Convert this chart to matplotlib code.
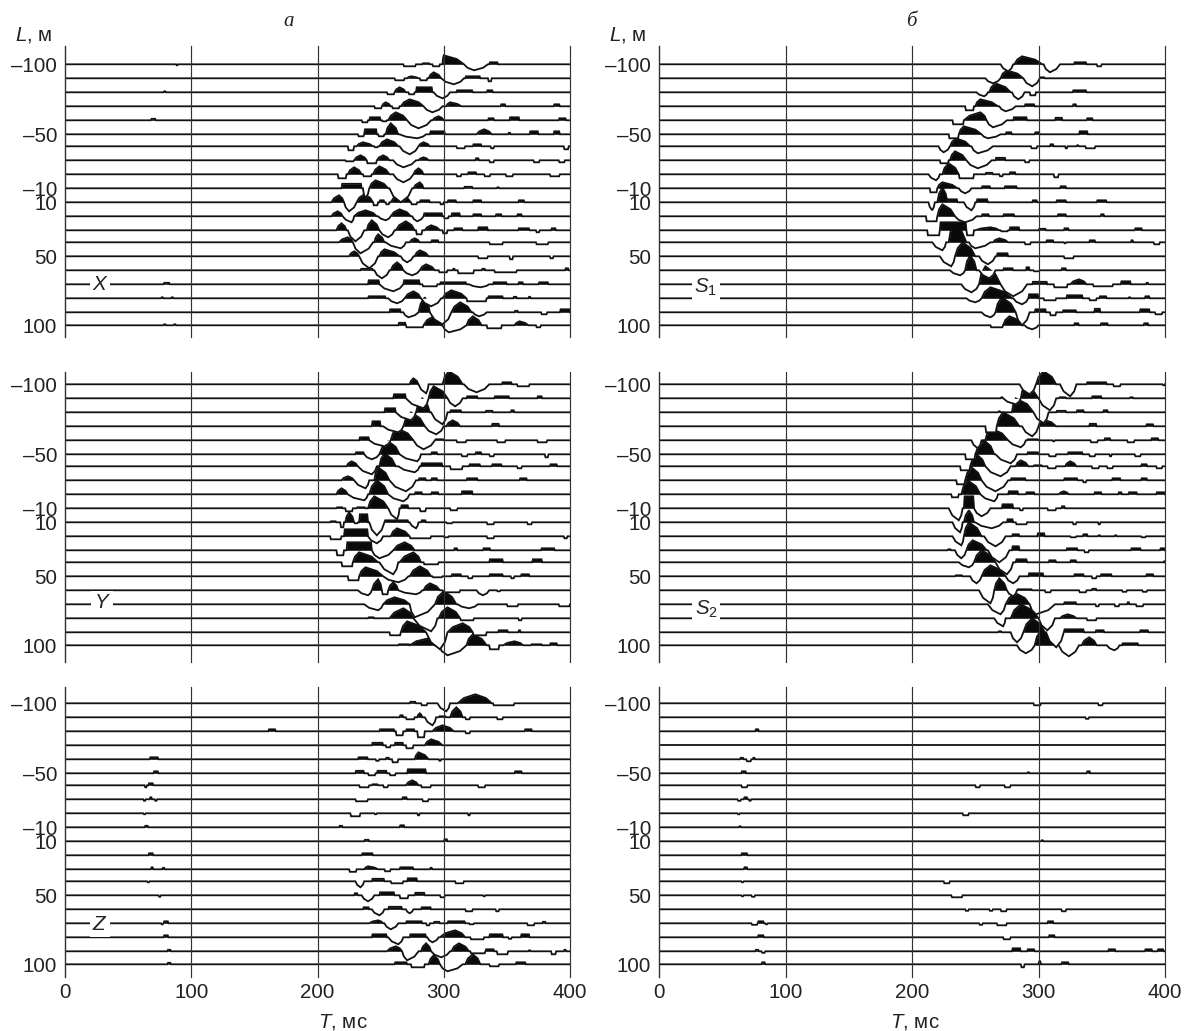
import matplotlib
matplotlib.use('Agg')
import matplotlib.pyplot as plt
import numpy as np

plt.rcParams['font.family'] = ['Liberation Sans']
plt.rcParams['mathtext.fontset'] = 'custom'
plt.rcParams['mathtext.rm'] = 'Liberation Sans'
plt.rcParams['mathtext.it'] = 'Liberation Sans:italic'

# Depth labels and time ticks
depth_labels = ['–100', '–50', '–10', '10', '50', '100']
depth_trace_index = [0, 5, 9, 10, 14, 19]
time_ticks = [0, 100, 200, 300, 400]

# Each trace is a list of read-off events, amplitude in picture pixels, up = positive
# (start, end, amp) = small flat step, (start, top, end, amp) = lobe
x_traces = [
    [(88, 89.5, -1), (268, 278, -2), (283, 289, 1), (291, 297, -2), (299, 300, 316, 9), (316, 324, 335, -6), (336, 343, 2)],
    [(261, 269, -2), (271, 274, 280, 2), (281, 287, -2), (288, 292, 298, 6), (298, 308, 316, -6), (317, 329, 2), (335, 338, -3)],
    [(78, 80, 1), (255, 261, -2), (261, 265, 270, 5), (272, 277, -2), (278, 291, 5), (292, 299, 305, -6), (310, 323, 2), (334, 339, 2)],
    [(245, 251, -2), (251, 254, 258, 4), (259, 265, -2), (266, 273, 284, 7), (284, 291, 299, -6), (302, 305, 314, 4), (345, 349, 2), (387, 392, 2)],
    [(68, 72, 1.5), (235, 240, -2), (241, 250, 3), (251, 255, -1), (256, 262, 271, 8), (271, 280, 290, -8), (291, 296, 300, 4), (335, 340, 2), (352, 360, 3), (391, 397, 2)],
    [(232, 237, -2), (237, 247, 5), (248, 253, -2), (254, 258, 264, 11), (265, 279, 286, -4), (289, 301, 3), (326, 332, 338, 5), (351, 353, 1.5), (368, 375, 3), (387, 392, 3)],
    [(224, 229, -4), (231, 236, 244, 4), (245, 248, -1), (249, 255, 264, 7), (265, 273, 280, -8), (280, 284, 289, 4), (310, 317, -2), (323, 330, 2), (337, 340, -2), (395, 399, -3)],
    [(222, 229, -1), (229, 234, 239, 5), (239, 247, -3), (247, 252, 257, 5), (260, 268, 278, -7), (280, 284, 288, 3), (325, 328, 2), (336, 340, -2), (371, 376, -2), (391, 396, -2)],
    [(216, 223, -4), (224, 229, 235, 7), (236, 243, -2), (244, 249, 257, 8), (260, 268, 276, -8), (276, 280, 284, 6), (310, 314, -2), (319, 326, 2), (332, 337, -2), (349, 355, -2), (384, 392, -2)],
    [(219, 235, 4.5), (236, 238, 241, -10), (241, 246, 256, 8), (257, 266, 275, -14), (276, 281, 284, 6), (316, 323, 1.5), (342, 344, 1)],
    [(211, 217, 221, 7), (221, 225, 231, -9), (231, 237, 244, 8), (244, 248, -3), (249, 253, 2), (254, 257, -2), (258, 265, 274, 8), (274, 279, -2), (281, 289, 2), (297, 300, -2), (303, 310, 2), (323, 330, 2), (359, 364, 2)],
    [(211, 216, 220, 5), (220, 227, 229, -6), (229, 238, 247, 6), (248, 254, 258, -4), (258, 265, 274, 7), (275, 279, 284, -5), (284, 299, 3), (300, 304, -2), (306, 313, 3), (323, 330, 2), (341, 346, 2), (358, 362, 2)],
    [(215, 219, 223, 7), (224, 230, 237, -11), (239, 243, 249, 10), (249, 256, 261, -7), (262, 270, 277, 9), (278, 283, -4), (285, 290, 297, 5), (299, 303, -3), (308, 315, 2), (327, 335, 3), (359, 368, 2), (373, 376, -2), (385, 389, 2)],
    [(217, 224, 228, 5), (228, 234, 244, -11), (245, 248, 253, 8), (254, 266, 270, -6), (273, 277, 281, 4), (290, 296, 2), (336, 347, -2), (373, 383, -2)],
    [(225, 229, 233, 5), (233, 241, 248, -12), (249, 253, 265, 7), (266, 271, 276, -6), (277, 281, 288, 6), (327, 335, -2), (352, 355, -3), (384, 387, -2)],
    [(234, 244, 1.5), (245, 251, 257, -8), (258, 263, 268, 8), (268, 275, 281, -5), (281, 286, 293, 6), (296, 303, -2), (307, 309, 1.5), (311, 324, -3), (330, 333, 1.5), (340, 358, -2), (396, 399, 2)],
    [(78, 83, 1.5), (240, 249, 4), (249, 260, 268, -7), (268, 281, 4), (283, 295, -2), (297, 318, 2), (320, 329, 336, -3), (339, 350, 2), (359, 363, 2), (375, 383, 2)],
    [(76, 78, 1), (84, 86, 1), (240, 254, 2), (256, 263, 269, -5), (269, 276, 282, 7), (282, 290, 298, -8), (299, 306, 318, 8), (318, 334, -3), (335, 347, 2), (355, 358, 1.5), (367, 369, 1.5)],
    [(257, 266, 3), (268, 272, 280, -5), (280, 285, 289, 15), (289, 299, 306, -12), (306, 313, 322, 10), (323, 328, 334, -4), (356, 359, 1.5), (377, 382, -2), (392, 400, 3)],
    [(78, 80, 1), (86, 88, 1), (264, 270, 2.5), (270, 284, -2), (284, 292, 298, 9), (299, 304, 318, -7), (318, 323, 330, 9), (334, 346, -3), (356, 360, 367, 4), (373, 377, -2)],
]

y_traces = [
    [(273, 276, 280, 6), (280, 286, 288, -9), (299, 304, 315, 13), (316, 326, 336, -8), (346, 354, 2), (358, 368, -2)],
    [(260, 270, 4), (270, 284, 288, -10), (288, 292, 303, 12), (303, 309, 315, -8), (318, 327, 2), (340, 352, 2), (374, 378, 2)],
    [(253, 262, 4), (262, 274, 278, -8), (278, 283, 289, 14), (290, 299, 303, -12), (305, 314, 2), (333, 339, 1.5), (353, 356, 2)],
    [(243, 250, 5), (252, 264, 268, -6), (268, 274, 285, 14), (285, 294, 300, -8), (302, 307, 313, 6), (338, 344, 2.5)],
    [(233, 241, 3), (241, 253, 258, -6), (258, 263, 276, 12), (276, 284, 293, -9), (293, 300, 1), (310, 318, -2), (342, 349, -2), (374, 382, -2)],
    [(230, 237, 2), (237, 243, 249, -5), (249, 256, 265, 13), (265, 279, 282, -7), (290, 295, 2), (314, 319, -2), (325, 330, 2), (336, 340, -2), (380, 383, -3)],
    [(223, 227, 232, 5), (232, 243, 247, -8), (249, 253, 262, 13), (264, 277, 281, -6), (282, 299, 3), (305, 315, -3), (320, 329, 2), (338, 346, 2), (358, 362, -2), (384, 390, 2)],
    [(219, 224, 229, 4), (229, 238, 241, -8), (245, 248, 257, 13), (257, 270, 278, -11), (280, 286, 2), (290, 295, 2), (318, 327, 2), (360, 366, 2)],
    [(215, 219, 224, 6), (224, 237, 240, -6), (241, 247, 256, 14), (256, 268, 273, -7), (277, 283, 2), (290, 296, 2), (314, 323, 3)],
    [(215, 220, 1), (222, 228, -3), (231, 238, 1), (240, 245, 256, 12), (256, 263, 265, -11), (266, 272, 3), (281, 286, -3), (305, 311, -2)],
    [(210, 215, 1), (218, 221, -5), (222, 225, 229, 10), (229, 232, -1), (233, 240, 8), (241, 247, 253, -13), (253, 272, 2), (273, 278, 280, -6), (282, 286, 2), (302, 307, -1), (334, 340, -2), (366, 370, -2)],
    [(210, 219, -3), (221, 240, 7), (240, 247, 252, -7), (258, 263, 273, 8), (273, 290, -2), (300, 304, -1), (334, 340, -2), (395, 398, -2)],
    [(215, 221, -5), (223, 243, 8), (243, 249, 260, -8), (260, 269, 277, 8), (308, 311, 2), (331, 337, 2), (377, 388, 2)],
    [(219, 228, -4), (228, 233, 248, 10), (249, 260, 264, -12), (265, 276, 282, 10), (284, 296, -2), (336, 347, 3), (370, 378, 3)],
    [(224, 233, -4), (233, 238, 252, 9), (252, 264, 272, -6), (273, 281, 290, 10), (291, 299, -1), (306, 314, 2), (319, 323, -2), (336, 347, 2), (353, 356, -2), (361, 368, 2)],
    [(232, 240, 243, -5), (243, 248, 251, 11), (251, 256, -4), (256, 260, 264, 8), (264, 278, 283, -4), (284, 289, 297, 7), (299, 313, -2), (326, 331, 336, -5), (342, 345, -1)],
    [(237, 248, 252, -6), (252, 261, 273, 7), (273, 277, 293, -13), (293, 300, 310, 13), (311, 320, 327, -4), (350, 359, -2), (391, 400, -2)],
    [(240, 245, 1), (257, 268, 276, 10), (276, 290, 295, -13), (296, 303, 313, 11), (313, 324, -2), (359, 362, -2)],
    [(257, 266, -3), (266, 271, 286, 11), (286, 297, 303, -17), (303, 315, 323, 9), (323, 334, -3), (343, 351, 2), (359, 361, 2)],
    [(264, 273, 1), (273, 288, 293, 7), (296, 303, 318, -10), (318, 323, 334, 11), (336, 344, -4), (347, 356, 363, 4), (369, 378, 1), (384, 390, 2)],
]

z_traces = [
    [(273, 278, 1.5), (282, 287, -2), (295, 302, 305, -8), (311, 325, 338, 9), (339, 356, -2)],
    [(265, 268, 2), (270, 277, -2), (279, 281, 283, 4), (285, 291, 294, -8), (296, 302, 1), (305, 310, 315, 10), (317, 321, -2), (342, 347, -2)],
    [(161, 167, 2), (249, 261, 2), (262, 268, -4), (270, 277, 2), (279, 285, -6), (291, 299, 308, 6), (317, 321, -2), (364, 370, 2)],
    [(243, 252, 2.5), (254, 258, -2), (261, 268, 2.5), (270, 276, -3), (285, 290, 299, 6)],
    [(67, 74, 2), (232, 240, 2), (246, 249, -1.5), (254, 257, 1.5), (259, 264, -3), (277, 280, 288, 7), (296, 298, -1.5)],
    [(70, 74, 2), (230, 237, 2.5), (240, 246, -2), (247, 255, 2.5), (257, 262, -2), (271, 286, 4), (356, 362, 2)],
    [(63, 65, -2), (66, 70, 2), (233, 241, -2), (243, 248, 1), (252, 256, -2), (270, 275, 280, 5), (282, 290, -2), (327, 333, -2)],
    [(62, 64, -1.5), (67, 69, 2), (71, 73, -1.5), (230, 240, -2), (267, 271, 2), (283, 288, -2)],
    [(62, 64, -1), (226, 234, -3), (245, 247, -1), (279, 281, -2), (319, 321, -2)],
    [(63, 66, 1.5), (217, 220, 1.5), (265, 269, 2)],
    [(237, 241, 1.5), (300, 303, 2)],
    [(66, 70, 2), (235, 244, 2)],
    [(68, 70, 2), (77, 79, 1.5), (225, 231, -2.5), (237, 240, 248, 3), (253, 258, -2), (265, 276, 2), (289, 291, 1.5)],
    [(65, 67, -1), (230, 234, 237, -6), (243, 253, 2.5), (258, 268, -2), (271, 279, 3), (309, 316, -2)],
    [(74, 76, -1.5), (229, 232, 2), (235, 240, 245, -6), (249, 261, 3), (265, 272, -3), (277, 285, 2.5), (297, 301, -2), (331, 333, -1)],
    [(236, 241, 2), (243, 249, 253, -6), (256, 267, 2.5), (270, 273, 276, -4), (282, 290, 2), (317, 323, -2), (341, 344, -2)],
    [(76, 78, -1), (78, 82, 2), (241, 248, 252, 3), (253, 258, 264, -6), (270, 283, 2), (286, 289, -2), (292, 297, 1.5), (303, 317, 2), (320, 324, -1), (366, 372, -2), (378, 381, 1.5)],
    [(78, 82, 2), (243, 255, 3), (256, 264, 268, -7), (273, 286, 3), (287, 291, 296, -5), (297, 309, 317, 7), (321, 332, -2), (336, 347, 3), (351, 354, -1.5), (361, 368, 3)],
    [(81, 84, 1.5), (255, 262, 267, 5), (267, 271, 280, -9), (282, 286, 290, 8), (290, 298, 305, -6), (306, 312, 320, 8), (321, 333, -2), (333, 340, 2), (342, 351, -3), (367, 369, 1), (385, 389, -3), (395, 397, 1.5)],
    [(81, 84, 1.5), (261, 271, 2), (274, 285, -3), (288, 292, 297, 9), (297, 303, 315, -7), (317, 323, 329, 10), (336, 344, -2), (357, 365, 2)],
]

s1_traces = [
    [(270, 276, 280, -7), (281, 287, 303, 8), (304, 309, 317, -8), (328, 338, 2), (346, 350, -2)],
    [(258, 264, 270, -5), (270, 275, 288, 8), (288, 295, 301, -8), (301, 305, 1)],
    [(251, 257, 260, -4), (261, 266, 278, 9), (279, 284, 289, -7), (293, 298, -3), (327, 338, 2)],
    [(242, 249, -4), (250, 254, 268, 7), (269, 274, 282, -5), (289, 297, 2), (327, 330, 2)],
    [(232, 241, -4), (241, 254, 259, 8), (259, 264, 275, -7), (280, 291, 3), (313, 319, 2.5), (338, 343, 2)],
    [(229, 237, -4), (237, 241, 255, 8), (255, 260, 270, -4), (274, 279, 2), (297, 301, 2), (332, 339, 3)],
    [(221, 225, 230, -6), (230, 235, 246, 8), (247, 252, 264, -7), (294, 299, -2), (309, 312, 2), (321, 323, -2), (330, 332, 1), (337, 345, -2)],
    [(222, 229, -3), (230, 234, 243, 9), (243, 252, 263, -8), (266, 274, 2.5), (289, 293, -2)],
    [(213, 219, 222, -6), (224, 229, 237, 11), (237, 249, -4), (258, 264, 1.5), (269, 272, -2), (277, 282, 2), (312, 316, -3)],
    [(214, 220, -4), (220, 224, 236, 6), (237, 242, 247, -5), (255, 262, 2), (273, 283, 2), (317, 322, 2)],
    [(213, 216, 218, -8), (220, 224, 228, 15), (228, 236, 3), (241, 247, 250, -8), (251, 260, 3), (295, 299, 2), (314, 322, 2), (346, 354, 2)],
    [(211, 220, -5), (220, 224, 234, 12), (234, 242, 251, -6), (255, 261, 2), (272, 281, 2), (315, 322, 2), (349, 352, 2)],
    [(212, 222, -5), (222, 243, 8), (243, 249, -5), (250, 262, 269, 3), (270, 276, -1), (277, 285, 3), (300, 306, 1.5), (320, 324, 2), (376, 382, 2)],
    [(216, 224, 227, -8), (229, 233, 243, 18), (245, 250, 262, -6), (264, 269, 276, 4), (289, 294, -2), (306, 312, 2), (320, 322, -1), (340, 345, 2), (373, 375, 2), (391, 396, -2)],
    [(222, 231, 234, -10), (234, 240, 250, 14), (253, 260, 266, -8), (267, 276, 3), (320, 328, -2)],
    [(230, 238, 242, -5), (242, 246, 251, 15), (253, 261, 266, -8), (272, 280, 2), (290, 293, 3), (296, 301, -1), (318, 322, 2)],
    [(239, 247, 253, -8), (253, 258, 270, 18), (270, 280, 291, -12), (295, 307, 2.5), (312, 323, -3), (325, 332, 338, 5), (343, 359, -2), (365, 373, 3), (385, 387, 1.5)],
    [(243, 250, 255, -4), (255, 262, 279, 11), (280, 287, 292, -6), (292, 300, 4), (304, 314, -2), (322, 335, 3), (340, 346, -2), (348, 354, 2), (371, 373, 1), (384, 388, 2)],
    [(255, 262, 266, -5), (266, 271, 282, 15), (282, 287, 293, -13), (297, 306, 3), (309, 314, -3), (319, 330, 2), (344, 349, 3.5), (380, 388, 3), (392, 398, -2)],
    [(262, 272, -2), (272, 277, 288, 9), (289, 295, 300, -4), (328, 332, 2), (349, 355, 2), (383, 387, 2)],
]

s2_traces = [
    [(285, 293, 298, -10), (298, 304, 314, 13), (317, 325, 330, -12), (338, 354, 2), (359, 365, -2), (398, 400, -1)],
    [(270, 272, 1), (272, 282, 286, -6), (286, 289, 300, 12), (300, 309, 314, -12), (316, 322, 1), (342, 350, 2), (372, 375, 1)],
    [(268, 270, 1), (279, 282, 296, 14), (296, 304, 308, -11), (314, 322, 1.5), (330, 336, 2), (351, 355, 2)],
    [(258, 267, -6), (267, 272, 285, 14), (287, 295, 300, -10), (300, 303, 314, 7), (340, 346, 2.5), (385, 391, 2)],
    [(247, 252, 255, -8), (258, 262, 276, 12), (276, 286, 290, -7), (291, 300, 1), (311, 313, -1), (341, 347, -2), (352, 357, 2), (370, 376, -2), (389, 395, 2)],
    [(242, 250, -5), (250, 257, 265, 14), (266, 278, 283, -9), (291, 300, 2), (308, 314, -2), (323, 335, 2), (340, 345, -2), (356, 358, -2), (376, 381, -2)],
    [(238, 246, -4), (246, 251, 258, 12), (258, 270, 278, -10), (282, 286, 292, 6), (296, 303, 1), (307, 314, -2), (321, 325, 330, 5), (342, 348, -2), (354, 359, -2), (381, 386, 2), (393, 398, -2)],
    [(235, 242, -4), (242, 247, 255, 13), (255, 266, 276, -11), (278, 290, 2), (320, 331, 2), (335, 338, -2), (358, 365, 2), (381, 386, 2)],
    [(231, 237, -3), (239, 244, 254, 14), (254, 265, 268, -7), (276, 284, 3), (290, 297, 2), (316, 320, 324, 3), (344, 350, 2), (363, 366, 2), (371, 378, 2), (393, 400, 2)],
    [(229, 237, 240, -12), (241, 249, 12), (249, 255, 262, -8), (271, 280, 4), (285, 288, -2), (307, 314, -2), (318, 321, 2)],
    [(232, 238, 240, -10), (241, 245, 249, 12), (250, 263, 272, -6), (275, 280, 3), (282, 291, -2), (327, 330, -2), (347, 349, -2)],
    [(232, 239, 241, -9), (241, 245, 255, 14), (257, 266, 274, -10), (279, 285, 2), (299, 305, 3), (325, 330, -1), (335, 339, 2), (347, 349, 1), (360, 362, 1), (381, 385, -1)],
    [(228, 231, 1), (234, 239, 243, -8), (243, 248, 259, 10), (260, 269, 277, -12), (279, 285, 4), (322, 331, 2), (336, 340, -2), (373, 381, 2), (396, 400, 2)],
    [(237, 245, 249, -5), (249, 255, 266, 12), (266, 275, 280, -12), (282, 291, 3), (308, 314, 2), (325, 330, 2), (399, 400, 1)],
    [(234, 240, 1), (246, 251, 255, -7), (255, 262, 274, 11), (274, 280, 285, -7), (292, 304, 3), (328, 336, 2), (342, 346, -2), (349, 358, 2), (385, 391, 2)],
    [(253, 262, 265, -13), (265, 269, 275, 12), (275, 280, 283, -6), (283, 295, 1), (305, 310, -2), (332, 338, -2), (342, 346, 1.5), (366, 370, -1.5), (382, 386, -1.5)],
    [(260, 270, 274, -10), (274, 282, 293, 11), (293, 298, 313, -10), (320, 330, 2), (345, 348, -2), (360, 364, -2), (370, 372, 2), (377, 383, -2)],
    [(265, 272, 274, -8), (278, 286, 300, 14), (300, 307, 313, -12), (317, 323, 330, 4), (338, 346, -2)],
    [(268, 271, 1), (278, 283, 288, -10), (288, 295, 305, 14), (306, 314, 320, -15), (320, 336, 3), (345, 352, 2), (380, 387, 2)],
    [(283, 290, 297, -8), (297, 302, 314, 15), (316, 324, 332, -11), (334, 340, 346, 8), (354, 360, 364, -5), (366, 379, 2)],
]

s3_traces = [
    [(296, 302, -2), (347, 351, -2)],
    [(337, 340, -1.5)],
    [(76, 79, 2)],
    [],
    [(64, 67, 1.5), (69, 73, -2), (74, 76, 1.5)],
    [(65, 69, 2), (291, 293, 1), (338, 341, 2)],
    [(65, 70, -2), (250, 254, -2), (273, 278, -2)],
    [(62, 65, -1.5), (67, 70, 2), (71, 73, -1.5)],
    [(62, 64, -1), (240, 245, -2)],
    [(63, 65, 1)],
    [(302, 304, 1)],
    [(65, 70, 2)],
    [(67, 70, 2)],
    [(65, 67, -1), (225, 230, -2)],
    [(65, 67, -1), (73, 76, -1.5), (231, 240, -2)],
    [(242, 245, -1.5), (261, 264, -1.5), (270, 275, -2), (318, 322, -2)],
    [(73, 78, -1.5), (78, 83, 2), (84, 86, -1), (253, 256, -1.5), (267, 275, -2), (307, 312, 2)],
    [(78, 83, 2), (272, 278, -2), (308, 313, 2)],
    [(76, 79, 1.5), (81, 84, -1.5), (279, 286, 3), (291, 297, 2), (355, 361, 2), (384, 390, 2), (394, 399, 2)],
    [(81, 84, 2), (286, 289, -3), (300, 302, 3), (318, 324, 2)],
]

# Layout in picture pixels
W, H = 1186, 1031
TRACE_OFFSETS = np.array([0, 14, 28, 42, 56, 70, 82, 96, 110, 124, 138, 152, 166, 178, 192, 206, 220, 234, 248, 261])
COLUMNS = [(65, 570), (659, 1165)]
ROWS = [(46, 337, 64.3), (372, 662, 384.3), (687, 977, 703.3)]
FS = 14.8


def trace_curve(events):
    t = [1.5]
    a = [0.0]
    for ev in sorted(events):
        if len(ev) == 3:
            s, e, v = ev
            edge = min(0.6, (e - s) / 3)
            t += [s, s + edge, e - edge, e]
            a += [0, v, v, 0]
        else:
            # lobes bulge out a little, the peaks are not quite straight sided
            s, p, e, v = ev
            t += [s, s + 0.35 * (p - s), p, e - 0.35 * (e - p), e]
            a += [0, 0.58 * v, v, 0.58 * v, 0]
    t.append(400)
    a.append(0)
    return np.maximum.accumulate(t), np.array(a, dtype=float)


def draw_panel(ax_box, row, traces):
    left, right = ax_box
    top, bottom, first = row
    ax = fig.add_axes([left / W, 1 - bottom / H, (right - left) / W, (bottom - top) / H])
    ax.set_xlim(0, 400)
    ax.set_ylim(bottom - first, top - first)
    for i, events in enumerate(traces):
        t, a = trace_curve(events)
        base = TRACE_OFFSETS[i]
        z = 2 - i * 0.05
        ax.fill_between(t, base, base - np.minimum(a, 0), color='white', lw=0, zorder=z)
        ax.fill_between(t, base, base - np.maximum(a, 0), color='#0a0a0a', lw=0, zorder=z)
        ax.plot(t, base - a, color='#111111', lw=1.3, zorder=z, solid_joinstyle='miter')
    for s in ['top', 'right', 'bottom']:
        ax.spines[s].set_visible(False)
    ax.spines['left'].set_linewidth(0.9)
    ax.spines['left'].set_color('#333333')
    ax.set_xticks(time_ticks)
    ax.set_yticks(TRACE_OFFSETS[depth_trace_index])
    ax.set_yticklabels(depth_labels)
    ax.tick_params(axis='both', length=0, labelsize=FS, colors='#222222')
    ax.tick_params(axis='y', pad=5.5)
    ax.tick_params(axis='x', pad=4)
    ax.set_axisbelow(False)
    ax.grid(axis='x', color='#333333', lw=0.85)
    for g in ax.get_xgridlines():
        g.set_clip_on(False)
    return ax


fig = plt.figure(figsize=(W / 100, H / 100), dpi=100)
fig.patch.set_facecolor('white')

panels = [
    (0, 0, x_traces, r'$\mathit{X}$', 100, 285),
    (0, 1, y_traces, r'$\mathit{Y}$', 102, 603),
    (0, 2, z_traces, r'$\mathit{Z}$', 100, 925),
    (1, 0, s1_traces, r'$\mathit{S}_1$', 706, 287),
    (1, 1, s2_traces, r'$\mathit{S}_2$', 706, 609),
    (1, 2, s3_traces, None, 0, 0),
]
for col, row, traces, label, lx, ly in panels:
    ax = draw_panel(COLUMNS[col], ROWS[row], traces)
    if row < 2:
        ax.set_xticklabels([])
    if label:
        fig.text(lx / W, 1 - ly / H, label, ha='center', va='center', fontsize=FS, color='#222222', zorder=10,
                 bbox=dict(facecolor='white', edgecolor='none', pad=1.5))

# Axis titles and panel letters
fig.text(15 / W, 1 - 35 / H, r'$\mathit{L}$, м', ha='left', va='center', fontsize=FS, color='#222222')
fig.text(609 / W, 1 - 35 / H, r'$\mathit{L}$, м', ha='left', va='center', fontsize=FS, color='#222222')
fig.text(318 / W, 1 - 1022 / H, r'$\mathit{T}$, мс', ha='left', va='center', fontsize=FS, color='#222222')
fig.text(890 / W, 1 - 1022 / H, r'$\mathit{T}$, мс', ha='left', va='center', fontsize=FS, color='#222222')
fig.text(289 / W, 1 - 21 / H, 'а', ha='center', va='center', fontsize=15, style='italic',
         family='Liberation Serif', color='#222222')
fig.text(911 / W, 1 - 21 / H, 'б', ha='center', va='center', fontsize=15, style='italic',
         family='Liberation Serif', color='#222222')

fig.savefig('out.png', dpi=100, facecolor='white')
